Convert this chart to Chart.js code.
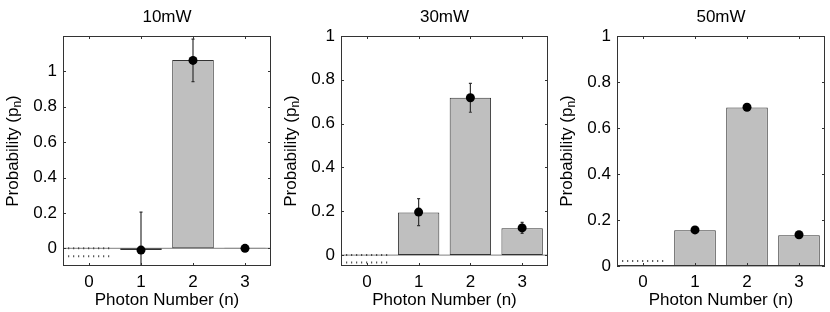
<!DOCTYPE html>
<html><head><meta charset="utf-8">
<script src="https://cdn.jsdelivr.net/npm/chart.js@4.4.0/dist/chart.umd.min.js"></script>
<style>
html,body{margin:0;padding:0;background:#fff;}
#wrap{position:relative;width:830px;height:312px;overflow:hidden;}
canvas{position:absolute;top:0;}
</style></head><body>
<div id="wrap">
<canvas id="c1" width="277" height="312" style="left:0px"></canvas>
<canvas id="c2" width="277" height="312" style="left:277px"></canvas>
<canvas id="c3" width="277" height="312" style="left:554px"></canvas>
</div>
<script>
// ---- data ----
const photonNumbers = ['0', '1', '2', '3'];
const panelTitles = ['10mW', '30mW', '50mW'];
const barValues10 = [-0.045, -0.01, 1.065, 0.003];
const dotValues10 = [null, -0.01, 1.062, 0.0];
const errValues10 = [0, 0.215, 0.12, 0];
const barValues30 = [-0.034, 0.194, 0.718, 0.122];
const dotValues30 = [null, 0.196, 0.718, 0.124];
const errValues30 = [0, 0.062, 0.066, 0.025];
const barValues50 = [0.022, 0.155, 0.689, 0.134];
const dotValues50 = [null, 0.157, 0.690, 0.136];
const errValues50 = [0, 0.01, 0.012, 0.008];
const yMinValues = [-0.1, -0.05, 0];
const yMaxValues = [1.2, 1, 1];
const yTickValues = [0, 0.2, 0.4, 0.6, 0.8, 1];
const xLabel = 'Photon Number (n)';
const yLabelMain = 'Probability (p';
const yLabelSub = 'n';
const yLabelEnd = ')';

const FONT = '"Liberation Sans", Arial, Helvetica, sans-serif';

const panels = [
  {id: 'c1', bars: barValues10, dots: dotValues10, errs: errValues10, left: 63},
  {id: 'c2', bars: barValues30, dots: dotValues30, errs: errValues30, left: 64},
  {id: 'c3', bars: barValues50, dots: dotValues50, errs: errValues50, left: 63}
];

const AXIS_W = 30;
const PLOT_TOP = 36;
const PLOT_BOTTOM = 266;
const CANVAS_H = 312;
const PAD_RIGHT = 6;

const decorPlugin = {
  id: 'decor',
  beforeDatasetsDraw(chart) {
    const ctx = chart.ctx, a = chart.chartArea, y = chart.scales.y;
    const y0 = y.getPixelForValue(0);
    ctx.save();
    ctx.strokeStyle = '#999';
    ctx.lineWidth = 1.3;
    ctx.beginPath();
    ctx.moveTo(a.left, y0);
    ctx.lineTo(a.right, y0);
    ctx.stroke();
    ctx.restore();
  },
  afterDatasetDraw(chart, args) {
    if (args.index !== 0) return;
    const ctx = chart.ctx, a = chart.chartArea;
    const p = chart.options.plugins.decor;
    const meta = chart.getDatasetMeta(0);
    const ys = chart.scales.y, xs = chart.scales.x;
    ctx.save();
    ctx.beginPath();
    ctx.rect(a.left, a.top, a.right - a.left, a.bottom - a.top);
    ctx.clip();
    // dotted outline for the n=0 bar
    const el = meta.data[0];
    if (el) {
      const l = el.x - el.width / 2, r = el.x + el.width / 2;
      ctx.strokeStyle = '#333';
      ctx.lineWidth = 2;
      ctx.setLineDash([1, 4]);
      ctx.beginPath();
      ctx.moveTo(l, el.y); ctx.lineTo(r, el.y);
      ctx.moveTo(l, el.base); ctx.lineTo(r, el.base);
      ctx.stroke();
      ctx.setLineDash([]);
    }
    // error bars
    ctx.strokeStyle = '#333';
    ctx.lineWidth = 1.2;
    p.dots.forEach((v, i) => {
      if (v === null || !p.errs[i]) return;
      const x = xs.getPixelForValue(i);
      const yt = ys.getPixelForValue(v + p.errs[i]);
      const yb = ys.getPixelForValue(v - p.errs[i]);
      ctx.beginPath();
      ctx.moveTo(x, yt); ctx.lineTo(x, yb);
      ctx.moveTo(x - 1.5, yt); ctx.lineTo(x + 1.5, yt);
      ctx.moveTo(x - 1.5, yb); ctx.lineTo(x + 1.5, yb);
      ctx.stroke();
    });
    ctx.restore();
  },
  afterDraw(chart) {
    const ctx = chart.ctx, a = chart.chartArea;
    const p = chart.options.plugins.decor;
    const xs = chart.scales.x, ys = chart.scales.y;
    ctx.save();
    // frame
    ctx.strokeStyle = '#333';
    ctx.lineWidth = 1;
    ctx.strokeRect(a.left + 0.5, a.top + 0.5, a.right - a.left - 1, a.bottom - a.top - 1);
    // inward ticks on all four sides
    ctx.beginPath();
    photonNumbers.forEach((c, i) => {
      const x = Math.round(xs.getPixelForValue(i)) + 0.5;
      ctx.moveTo(x, a.bottom); ctx.lineTo(x, a.bottom - 3);
      ctx.moveTo(x, a.top); ctx.lineTo(x, a.top + 3);
    });
    yTickValues.forEach(v => {
      const y = Math.round(ys.getPixelForValue(v)) + 0.5;
      ctx.moveTo(a.left, y); ctx.lineTo(a.left + 3, y);
      ctx.moveTo(a.right, y); ctx.lineTo(a.right - 3, y);
    });
    ctx.stroke();
    // title
    const cx = (a.left + a.right) / 2;
    ctx.fillStyle = '#000';
    ctx.font = '17px ' + FONT;
    ctx.textAlign = 'center';
    ctx.textBaseline = 'middle';
    ctx.fillText(p.title, cx, 17);
    // y label with subscript
    const cy = (a.top + a.bottom) / 2;
    ctx.translate(a.left - 51, cy);
    ctx.rotate(-Math.PI / 2);
    const mainFont = '17px ' + FONT, subFont = '12px ' + FONT;
    ctx.font = mainFont; const w1 = ctx.measureText(yLabelMain).width; const w3 = ctx.measureText(yLabelEnd).width;
    ctx.font = subFont; const w2 = ctx.measureText(yLabelSub).width;
    let sx = -(w1 + w2 + w3) / 2;
    ctx.textAlign = 'left';
    ctx.textBaseline = 'alphabetic';
    const base = 6;
    ctx.font = mainFont; ctx.fillText(yLabelMain, sx, base); sx += w1;
    ctx.font = subFont; ctx.fillText(yLabelSub, sx, base + 3); sx += w2;
    ctx.font = mainFont; ctx.fillText(yLabelEnd, sx, base);
    ctx.restore();
  }
};

panels.forEach((pn, k) => {
  const barFill = pn.bars.map((v, i) => i === 0 ? 'rgba(0,0,0,0)' : '#bfbfbf');
  const barEdge = pn.bars.map((v, i) => i === 0 ? 'rgba(0,0,0,0)' : '#333');
  new Chart(document.getElementById(pn.id), {
    data: {
      labels: photonNumbers,
      datasets: [
        {type: 'bar', data: pn.bars, backgroundColor: barFill, borderColor: barEdge, borderWidth: 1,
         categoryPercentage: 0.8, barPercentage: 1.0, order: 2, borderSkipped: false},
        {type: 'line', data: pn.dots, showLine: false, pointRadius: 4.5, pointBackgroundColor: '#000',
         pointBorderColor: '#000', pointBorderWidth: 0, order: 1, clip: false}
      ]
    },
    options: {
      responsive: false,
      animation: false,
      events: [],
      layout: {padding: {left: pn.left - AXIS_W, right: PAD_RIGHT, top: PLOT_TOP, bottom: 0}},
      plugins: {
        legend: {display: false},
        tooltip: {enabled: false},
        decor: {title: panelTitles[k], dots: pn.dots, errs: pn.errs}
      },
      scales: {
        x: {
          type: 'category', offset: true,
          grid: {display: false, drawTicks: false}, border: {display: false},
          ticks: {font: {family: FONT, size: 17}, color: '#000', padding: 6},
          title: {display: true, text: xLabel, font: {family: FONT, size: 17}, color: '#000', padding: {top: 0, bottom: 1}},
          afterFit(s) { s.height = CANVAS_H - PLOT_BOTTOM; }
        },
        y: {
          type: 'linear', min: yMinValues[k], max: yMaxValues[k],
          grid: {display: false, drawTicks: false}, border: {display: false},
          afterBuildTicks(s) { s.ticks = yTickValues.map(v => ({value: v})); },
          ticks: {font: {family: FONT, size: 17}, color: '#000', padding: 6,
                  callback: v => String(+Number(v).toFixed(2))},
          afterFit(s) { s.width = AXIS_W; }
        }
      }
    },
    plugins: [decorPlugin]
  });
});
</script>
</body></html>
